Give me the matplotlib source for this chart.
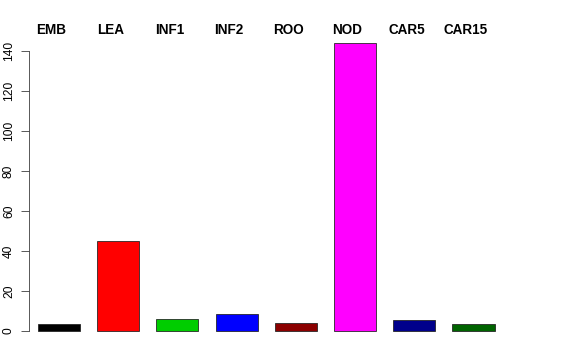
import matplotlib
matplotlib.use("Agg")
import matplotlib.pyplot as plt

categories = ["EMB", "LEA", "INF1", "INF2", "ROO", "NOD", "CAR5", "CAR15"]
values = [3.3, 45, 6, 8.3, 4.2, 144, 5.3, 3.5]
colors = ["#000000", "#FF0000", "#00CD00", "#0000FF", "#8B0000", "#FF00FF", "#00008B", "#006400"]
yticks = [0, 20, 40, 60, 80, 100, 120, 140]

plt.rcParams['font.family'] = ['Liberation Sans', 'DejaVu Sans']

fig = plt.figure(figsize=(8, 5), dpi=72)
ax = fig.add_axes([29/576, (360-342.5)/360, 474.5/576, 309.9/360])
x = list(range(len(categories)))
ax.bar(x, values, width=0.71, color=colors, edgecolor="#222222", linewidth=0.8)
ax.set_xlim(-0.507, 7.507)
ax.set_ylim(-5.75, 149.2)

for s in ["top", "right", "bottom"]:
    ax.spines[s].set_visible(False)
ax.spines["left"].set_bounds(0, 140)
ax.spines["left"].set_color("#333333")
ax.set_xticks([])
ax.set_yticks(yticks)
ax.set_yticklabels([str(t) for t in yticks], rotation=90, va="center", fontsize=12)
ax.tick_params(axis="y", length=8, pad=6, color="#333333")

for i, c in enumerate(categories):
    ax.text(i - 0.13, 148.5, c, ha="center", va="baseline", fontsize=13.5,
            fontweight="bold", transform=ax.transData, clip_on=False)

fig.savefig("out.png", dpi=72)
